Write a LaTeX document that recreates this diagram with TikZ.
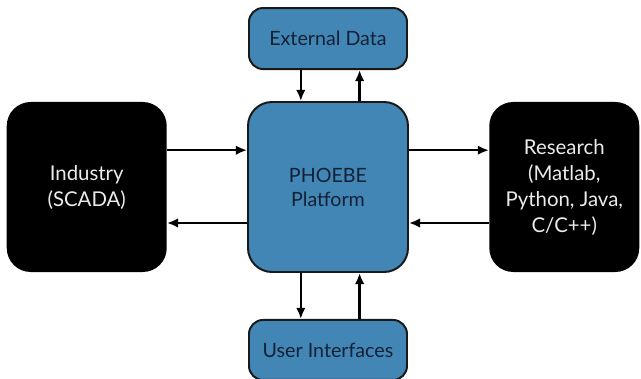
\documentclass[tikz,border=0pt]{standalone}
\usepackage{fontspec}
\setmainfont{Lato}
\usepackage{tikz}
\usetikzlibrary{positioning,arrows.meta}
\definecolor{phblue}{RGB}{66,134,182}
\definecolor{phtext}{RGB}{20,32,52}
\tikzset{
    blu/.style={draw=black!90, line width=1.4pt, fill=phblue, rounded corners=0.35cm, text=phtext, align=center, font=\fontsize{14}{17}\selectfont},
    big/.style={blu, rounded corners=0.6cm, minimum width=4cm, minimum height=4.25cm},
    blk/.style={fill=black, rounded corners=0.6cm, text=white!92!black, align=center, minimum height=4.25cm, font=\fontsize{14.5}{18.5}\selectfont},
    arr/.style={line width=1.7pt, -{Latex[length=2.8mm,width=2.4mm]}}
}
\begin{document}
\begin{tikzpicture}
    \useasboundingbox (0,0) rectangle (16.025,-9.475);
    % Disegna la piattaforma al centro
    \node[big] (plat) at (8.2,-4.675) {PHOEBE\\Platform};
    % Disegna i blocchi ai lati
    \node[blk, minimum width=4cm, left=2cm of plat] (ind) {Industry\\(SCADA)};
    \node[blk, minimum width=3.75cm, right=2cm of plat] (res) {Research\\(Matlab,\\Python, Java,\\C/C++)};
    % Disegna i blocchi sopra e sotto
    \node[blu, minimum width=3.95cm, minimum height=1.525cm, above=0.775cm of plat] (ext) {External Data};
    \node[blu, minimum width=3.95cm, minimum height=1.5cm, below=1.15cm of plat] (ui) {User Interfaces};
    % Disegna le frecce orizzontali
    \draw[arr] ([yshift=9.2mm]ind.east) -- ([yshift=9.2mm]plat.west);
    \draw[arr] ([yshift=-9mm]plat.west) -- ([yshift=-9mm]ind.east);
    \draw[arr] ([yshift=9.2mm]plat.east) -- ([yshift=9.2mm]res.west);
    \draw[arr] ([yshift=-9mm]res.west) -- ([yshift=-9mm]plat.east);
    % Disegna le frecce verticali
    \draw[arr] ([xshift=-6.8mm]ext.south) -- ([xshift=-6.8mm]plat.north);
    \draw[arr] ([xshift=7.9mm]plat.north) -- ([xshift=7.9mm]ext.south);
    \draw[arr] ([xshift=-6.8mm]plat.south) -- ([xshift=-6.8mm]ui.north);
    \draw[arr] ([xshift=7.9mm]ui.north) -- ([xshift=7.9mm]plat.south);
\end{tikzpicture}
\end{document}
